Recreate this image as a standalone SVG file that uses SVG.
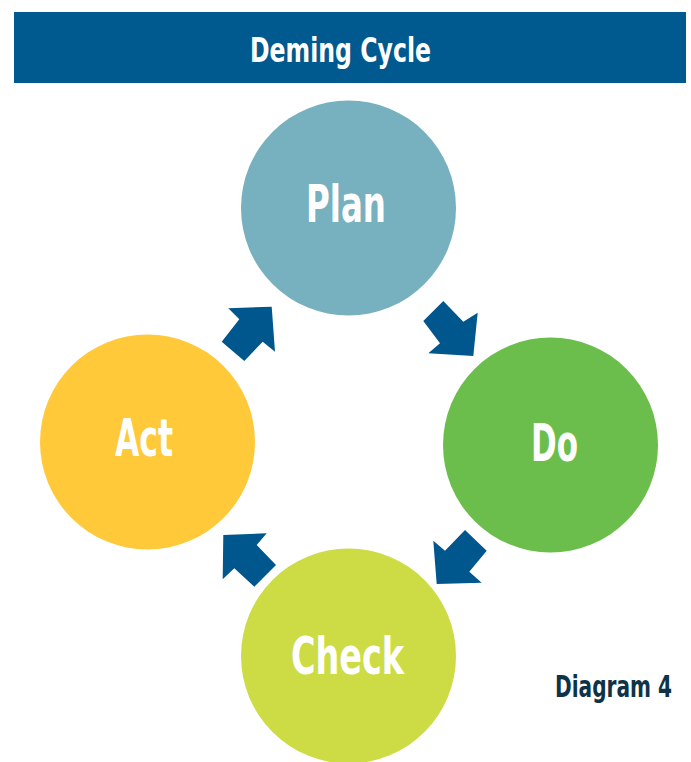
<svg xmlns="http://www.w3.org/2000/svg" width="691" height="762" viewBox="0 0 691 762">
<style>
.lbl{font-family:"DejaVu Sans Condensed","Liberation Sans",sans-serif;font-weight:bold;fill:#ffffff;text-anchor:middle}
.arrow{fill:#00578E}
</style>
<rect width="691" height="762" fill="#ffffff"/>
<g id="title">
<rect x="14" y="12" width="672" height="71" fill="#00598F"/>
<text class="lbl" x="340.5" y="62" font-size="34" textLength="181" lengthAdjust="spacingAndGlyphs">Deming Cycle</text>
</g>
<g id="connectors">
<polygon class="arrow" points="228.3,308.3 271.7,306.7 275,351.7 262.7,341.7 244.3,361 221.7,341.7 239.3,319.3"/>
<polygon class="arrow" points="423.3,321 443.3,301 463.3,321.7 477.7,312.7 473.3,356 428.3,353.3 440,343.3"/>
<polygon class="arrow" points="465,530 486.7,550.7 469.3,571.7 481.7,582.7 436.7,584 433.3,540.7 445,550.7"/>
<polygon class="arrow" points="223.3,535 266.7,533.3 256.7,545 276,565 254.3,586.7 234.3,568.3 222.7,579.3"/>
</g>
<g id="plan">
<circle cx="348.5" cy="208" r="107.5" fill="#77B0BE"/>
<text class="lbl" x="346" y="222" font-size="51" textLength="80" lengthAdjust="spacingAndGlyphs">Plan</text>
</g>
<g id="do">
<circle cx="550.5" cy="445" r="107.5" fill="#6BBE4B"/>
<text class="lbl" x="554.5" y="461" font-size="51" textLength="47" lengthAdjust="spacingAndGlyphs">Do</text>
</g>
<g id="act">
<circle cx="147.5" cy="442" r="107.5" fill="#FFC93A"/>
<text class="lbl" x="144" y="456" font-size="51" textLength="58" lengthAdjust="spacingAndGlyphs">Act</text>
</g>
<g id="check">
<circle cx="348.5" cy="656" r="107.5" fill="#CDDC45"/>
<text class="lbl" x="347.5" y="674" font-size="51" textLength="113" lengthAdjust="spacingAndGlyphs">Check</text>
</g>
<g id="caption">
<text x="672" y="697" font-size="31" font-family="DejaVu Sans Condensed,sans-serif" font-weight="bold" fill="#0D3349" text-anchor="end" textLength="117" lengthAdjust="spacingAndGlyphs">Diagram 4</text>
</g>
</svg>
